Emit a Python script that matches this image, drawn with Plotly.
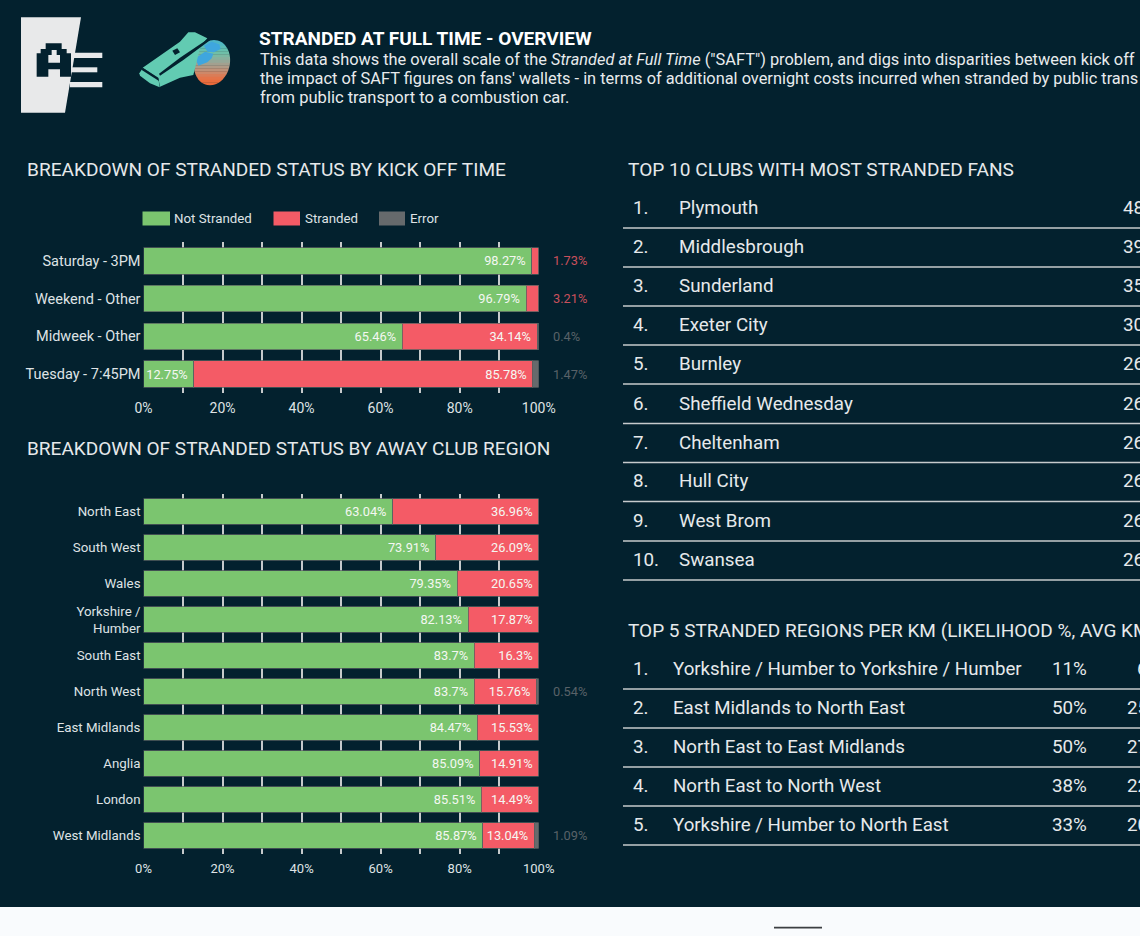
import plotly.graph_objects as go

W, H = 1140, 936
BG = "#03212e"
FONT = "Roboto"

# ---------- data ----------
kick_off_cats = ["Saturday - 3PM", "Weekend - Other", "Midweek - Other", "Tuesday - 7:45PM"]
kick_off_not_stranded = [98.27, 96.79, 65.46, 12.75]
kick_off_stranded = [1.73, 3.21, 34.14, 85.78]
kick_off_error = [0, 0, 0.4, 1.47]

region_cats = ["North East", "South West", "Wales", "Yorkshire /<br>Humber", "South East",
               "North West", "East Midlands", "Anglia", "London", "West Midlands"]
region_not_stranded = [63.04, 73.91, 79.35, 82.13, 83.7, 83.7, 84.47, 85.09, 85.51, 85.87]
region_stranded = [36.96, 26.09, 20.65, 17.87, 16.3, 15.76, 15.53, 14.91, 14.49, 13.04]
region_error = [0, 0, 0, 0, 0, 0.54, 0, 0, 0, 1.09]

club_names = ["Plymouth", "Middlesbrough", "Sunderland", "Exeter City", "Burnley",
              "Sheffield Wednesday", "Cheltenham", "Hull City", "West Brom", "Swansea"]
club_values = ["48", "39", "35", "30", "26", "26", "26", "26", "26", "26"]

route_names = ["Yorkshire / Humber to Yorkshire / Humber", "East Midlands to North East",
               "North East to East Midlands", "North East to North West",
               "Yorkshire / Humber to North East"]
route_likelihood = ["11%", "50%", "50%", "38%", "33%"]
route_km = ["6", "25", "27", "22", "20"]

tick_vals = [0, 10, 20, 30, 40, 50, 60, 70, 80, 90, 100]
tick_text = ["0%", "", "20%", "", "40%", "", "60%", "", "80%", "", "100%"]

series_names = ["Not Stranded", "Stranded", "Error"]
series_colors = ["#7bc56f", "#f45b66", "#666a6c"]

heading = "STRANDED AT FULL TIME - OVERVIEW"
intro_lines = [
    'This data shows the overall scale of the <i>Stranded at Full Time</i> ("SAFT") problem, and digs into disparities between kick off',
    "the impact of SAFT figures on fans' wallets - in terms of additional overnight costs incurred when stranded by public trans",
    "from public transport to a combustion car.",
]

# ---------- helpers ----------
px = lambda x: x / W
py = lambda y: 1 - y / H


def path(points):
    return "M" + " L".join(f"{px(x):.5f},{py(y):.5f}" for x, y in points) + " Z"


annotations, shapes = [], []


def label(x, y, text, size, color="#e6e9eb", anchor="left"):
    annotations.append(dict(xref="paper", yref="paper", x=px(x), y=py(y), text=text,
                            xanchor=anchor, yanchor="middle", showarrow=False, borderpad=0, borderwidth=0,
                            align="left", font=dict(family=FONT, size=size, color=color)))


def poly(points, color):
    shapes.append(dict(type="path", xref="paper", yref="paper", path=path(points),
                       fillcolor=color, line=dict(width=0), layer="above"))


def rect(x0, y0, x1, y1, color):
    shapes.append(dict(type="rect", xref="paper", yref="paper", x0=px(x0), x1=px(x1),
                       y0=py(y0), y1=py(y1), fillcolor=color, line=dict(width=0), layer="above"))


fig = go.Figure()


def stacked(cats, series, xa, ya, size):
    for name, color, vals in zip(series_names, series_colors, series):
        fig.add_trace(go.Bar(
            y=cats, x=vals, name=name, orientation="h", xaxis=xa, yaxis=ya,
            marker=dict(color=color, line=dict(color="rgba(85,95,95,0.75)", width=1)),
            text=[f"{v:g}%\u00a0" if v >= 5 else "" for v in vals],
            textposition="inside", insidetextanchor="end", textangle=0, constraintext="none",
            textfont=dict(family=FONT, size=size, color="#f4f7f2"), showlegend=False,
            hovertemplate="%{y}: %{x}%<extra>" + name + "</extra>"))
    ns, st, er = series
    for c, s, e in zip(cats, st, er):
        if e > 0:
            txt, col = f"{e:g}%", "#596268"
        elif s < 5:
            txt, col = f"{s:g}%", "#c9505c"
        else:
            continue
        annotations.append(dict(xref=xa, yref=ya, x=100, y=c, text=txt, xshift=13, xanchor="left",
                                showarrow=False, borderpad=0, font=dict(family=FONT, size=size, color=col)))


stacked(kick_off_cats, [kick_off_not_stranded, kick_off_stranded, kick_off_error], "x", "y", 12.8)
stacked(region_cats, [region_not_stranded, region_stranded, region_error], "x2", "y2", 12.8)

# ---------- header ----------
poly([(21, 17.3), (81, 17.3), (65, 112.7), (21, 112.7)], "#e8e9ea")
for y0, y1, xe in [(52.7, 58, 102.3), (67.3, 72.3, 97.3), (82, 87.3, 102.3)]:
    rect(70, y0, xe, y1, "#e8e9ea")
A_outer = [(65, 200), (65, 130), (77, 130), (77, 117), (92, 117), (92, 100), (140, 100), (140, 117),
           (155, 117), (155, 130), (168, 130), (168, 200), (135, 200), (135, 178), (100, 178), (100, 200)]
A_inner = [(100, 158), (100, 135), (110, 135), (110, 120), (125, 120), (125, 135), (135, 135), (135, 158)]
poly([(15 + x / 3, 10 + y / 3) for x, y in A_outer], BG)
poly([(15 + x / 3, 10 + y / 3) for x, y in A_inner], "#e8e9ea")


def wz(pts):
    return [(130 + x / 3, 25 + y / 3) for x, y in pts]


# whistle ball, built from horizontal colour bands
ball_colors = ["#4db4c8", "#52b8c0", "#5cbdb6", "#66c0ae", "#6fbfa8", "#7cb9a2", "#88b19e", "#95a898", "#a3a08f", "#b09a86",
               "#bf9279", "#cd8869", "#d97d58", "#e3744a", "#e96d3e", "#ea6a3a"]
cx, cy, rx, ry = 246, 113, 54, 68
n = len(ball_colors)
for i, col in enumerate(ball_colors):
    z0 = -1 + 2 * i / n
    z1 = -1 + 2 * (i + 1) / n + 0.01
    pts_l, pts_r = [], []
    for k in range(7):
        z = min(1, z0 + (z1 - z0) * k / 6)
        half = rx * (1 - z * z) ** 0.5
        yy = cy + ry * z
        shift = -6 * z
        pts_r.append((cx + shift + half, yy))
        pts_l.append((cx + shift - half, yy))
    poly(wz(pts_r + pts_l[::-1]), col)
poly(wz([(222, 62), (245, 50), (268, 58), (272, 72), (252, 82), (232, 80)]), "#3fa6de")
poly(wz([(196, 100), (225, 80), (250, 86), (245, 100), (232, 112), (205, 122)]), "#3fa6de")
# whistle body
poly(wz([(38, 128), (150, 50), (175, 22), (195, 22), (232, 40), (212, 62), (205, 90), (190, 150),
         (150, 158), (90, 185), (85, 160)]), "#62cbb2")
poly(wz([(28, 145), (38, 130), (85, 160), (89, 187), (60, 175), (30, 152)]), "#62cbb2")
poly(wz([(235, 41), (240, 46), (160, 105), (90, 152), (87, 146), (150, 98)]), BG)
poly(wz([(38, 128), (85, 158), (87, 168), (34, 134)]), BG)
poly(wz([(127, 77), (142, 70), (150, 82), (135, 90)]), BG)

label(259, 38.5, f"<b>{heading}</b>", 19.05, "#ffffff")
for y, line, s in zip([59.5, 78.5, 97.5], intro_lines, [16.36, 16.36, 16.55]):
    label(259.5, y, line, s, "#e8ebed")

# ---------- section titles ----------
label(26.5, 169.5, "BREAKDOWN OF STRANDED STATUS BY KICK OFF TIME", 19.08)
label(26.5, 448.5, "BREAKDOWN OF STRANDED STATUS BY AWAY CLUB REGION", 19.04)
label(628, 169.5, "TOP 10 CLUBS WITH MOST STRANDED FANS", 19.1)
label(628, 630.5, "TOP 5 STRANDED REGIONS PER KM (LIKELIHOOD %, AVG KM", 19)

# ---------- legend ----------
for x0, x1, tx, name, color in zip([142.5, 273.5, 379], [170, 300, 405], [174, 305, 410], series_names, series_colors):
    rect(x0, 211.5, x1, 225.5, color)
    label(tx, 218.5, name, 13.3, "#dfe3e5")

# ---------- tables ----------
RULE = "#c7cbcd"


def rule(y):
    shapes.append(dict(type="line", xref="paper", yref="paper", x0=px(623), x1=1, y0=py(y), y1=py(y),
                       line=dict(color=RULE, width=1.6), layer="above"))


club_y = [208, 247, 286, 325, 364, 403.5, 442.5, 481.5, 521, 560]
for i, (y, name, val) in enumerate(zip(club_y, club_names, club_values)):
    label(633, y, f"{i + 1}.", 18.8)
    label(679, y, name, 18.8)
    label(1123, y, val, 18.8)
    rule(y + 20)

route_y = [669, 708, 747, 786, 825]
for i, (y, name, pct, km) in enumerate(zip(route_y, route_names, route_likelihood, route_km)):
    label(633, y, f"{i + 1}.", 18.8)
    label(673, y, name, 18.7)
    label(1052, y, pct, 18.8)
    label(1137 if len(km) == 1 else 1126.5, y, km, 18.8)
    rule(y + 20)

# ---------- page foot ----------
rect(0, 907, W, H, "#f9fbfd")
rect(774, 926.8, 822, 928.4, "#3c3f42")


def xaxis(domain, anchor, size, stand):
    return dict(domain=domain, anchor=anchor, range=[0, 100], tickmode="array", tickvals=tick_vals,
                ticktext=tick_text, showgrid=True, gridcolor="#c6cacb", gridwidth=1.5, zeroline=False,
                showline=False, ticks="outside", ticklen=stand, tickcolor="rgba(0,0,0,0)", fixedrange=True,
                automargin=False, tickfont=dict(family=FONT, size=size, color="#dfe3e5"))


def yaxis(domain, anchor, cats, size):
    return dict(domain=domain, anchor=anchor, type="category", categoryorder="array", categoryarray=cats,
                autorange="reversed", showgrid=False, zeroline=False, showline=False, ticks="", fixedrange=True,
                automargin=False, ticklabelstandoff=2, tickfont=dict(family=FONT, size=size, color="#dfe3e5"))


x_dom = [143.5 / W, 538.7 / W]
fig.update_layout(
    width=W, height=H, autosize=False, margin=dict(l=0, r=0, t=0, b=0, pad=0, autoexpand=False),
    paper_bgcolor=BG, plot_bgcolor="rgba(0,0,0,0)", barmode="stack", bargap=0.3, showlegend=False,
    font=dict(family=FONT, color="#e6e9eb"),
    xaxis=xaxis(x_dom, "y", 14, 2),
    yaxis=yaxis([py(393), py(242)], "x", kick_off_cats, 14.5),
    xaxis2=xaxis(x_dom, "y2", 13, 3),
    yaxis2=yaxis([py(853.5), py(493.5)], "x2", region_cats, 13.3),
    annotations=annotations, shapes=shapes,
)

fig.write_html("out.html", config=dict(displayModeBar=False),
               post_script="document.body.style.margin='0';document.documentElement.style.overflow='hidden';")
